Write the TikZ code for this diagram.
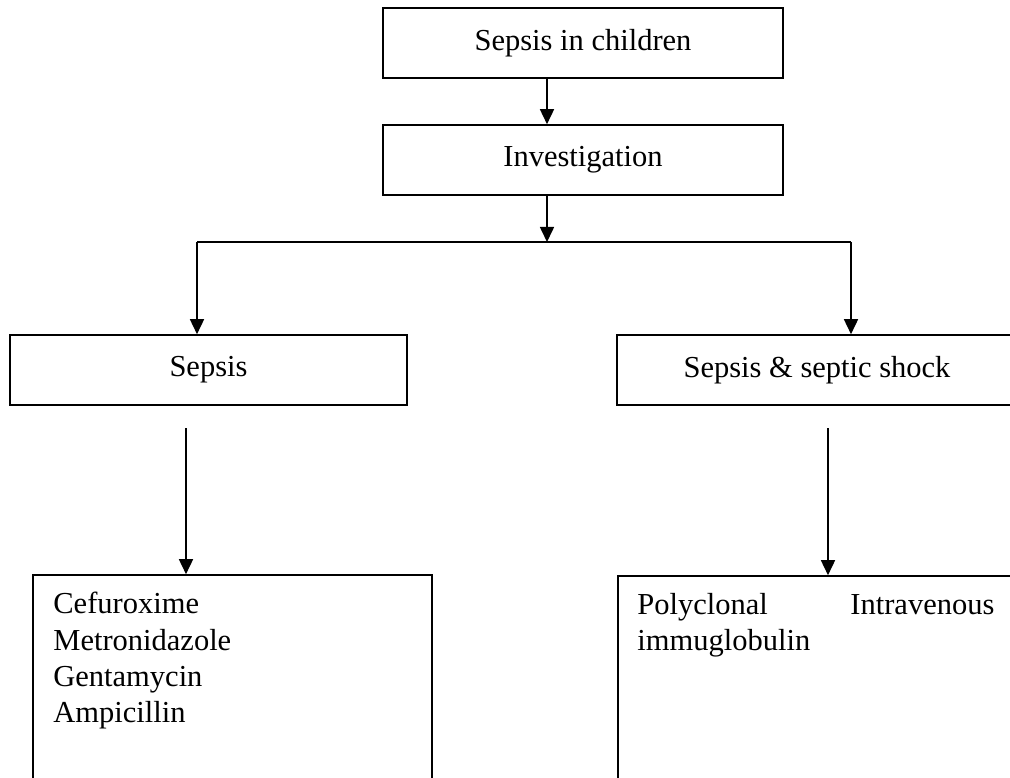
\documentclass[tikz,border=0pt]{standalone}
\usepackage{fontspec}
\setmainfont{Liberation Serif}
\usetikzlibrary{arrows.meta,calc}
\begin{document}
\begin{tikzpicture}[x=1pt, y=-1pt,
  txt/.style={font=\fontsize{30.5}{36.3}\selectfont},
  box/.style={draw, line width=1.6pt, inner sep=0pt, txt,
              minimum width=400pt, minimum height=70pt},
  listbox/.style={draw, line width=1.6pt, inner sep=0pt,
              minimum width=400pt, minimum height=300pt},
  arr/.style={line width=1.6pt, -{Triangle[width=14pt, length=15pt]}},
  link/.style={line width=1.6pt}
]
\useasboundingbox (0,0) rectangle (1010,778);
\clip (0,0) rectangle (1010,778);

% main column
\node[box] (top) at (583,43) {Sepsis in children};
\node[box] (inv) at (583,160) {Investigation};

% branches
\node[box, minimum width=397pt] (sepsis) at (208.5,370) {Sepsis};
\node[box] (shock) at (817,370) {Sepsis \& septic shock};

% treatment boxes (run past the lower edge)
\node[listbox, minimum width=399pt] (drugs) at (232.5,725) {};
\node[listbox] (ivig) at (818,726) {};

\node[txt, anchor=north west, inner sep=0pt, align=left]
  (druglist) at ($(drugs.north west)+(21,18)$)
  {Cefuroxime\\Metronidazole\\Gentamycin\\Ampicillin};
\node[txt, anchor=north west, inner sep=0pt, text width=357pt, align=left]
  (ivigtext) at ($(ivig.north west)+(20,18)$)
  {Polyclonal\hfill Intravenous\\immuglobulin};

% connectors
\coordinate (split) at (547,242);
\coordinate (bl) at (197,242);
\coordinate (br) at (851,242);
\coordinate (s1) at (186,428);
\coordinate (s2) at (828,428);

\draw[arr] ([xshift=-36pt]top.south) -- ([xshift=-36pt]inv.north);
\draw[arr] ([xshift=-36pt]inv.south) -- (split);
\draw[link] (bl) -- (br);
\draw[arr] (bl) -- (bl |- sepsis.north);
\draw[arr] (br) -- (br |- shock.north);
\draw[arr] (s1) -- (s1 |- drugs.north);
\draw[arr] (s2) -- (s2 |- ivig.north);
\end{tikzpicture}
\end{document}
